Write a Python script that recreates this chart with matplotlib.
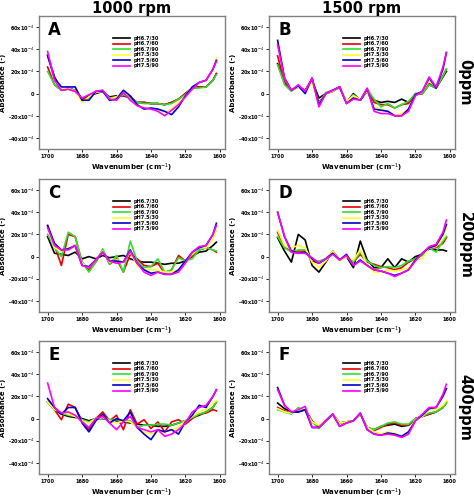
import matplotlib
matplotlib.use("Agg")
import matplotlib.pyplot as plt

wavenumber = [1700,1696,1692,1688,1684,1680,1676,1672,1668,1664,1660,1656,1652,1648,1644,1640,1636,1632,1628,1624,1620,1616,1612,1608,1604,1602]
series_names = ["pH6.7/30","pH6.7/60","pH6.7/90","pH7.5/30","pH7.5/60","pH7.5/90"]
colors = ["#000000","#e60000","#33dd33","#ffff33","#0000cc","#ff00ff"]

panel_A = [
 [35,15,3,5,3,-5,-2,0,2,-3,-2,-2,-4,-8,-8,-9,-9,-10,-8,-5,0,5,6,6,12,18],
 [24,8,3,4,2,-6,-3,1,2,-4,-3,-1,-3,-8,-8,-9,-9,-10,-8,-5,0,5,6,6,12,18],
 [20,8,3,4,3,-7,-4,2,3,-4,-3,-1,-4,-8,-9,-9,-9,-10,-9,-5,-1,5,5,6,12,17],
 [38,12,4,5,2,-8,-3,1,2,-5,-3,2,-6,-10,-13,-14,-14,-17,-14,-8,-2,6,10,12,22,32],
 [34,14,6,6,6,-6,-6,2,2,-6,-5,3,-2,-10,-14,-13,-14,-16,-19,-12,-2,6,10,12,22,30],
 [38,12,3,4,2,-4,-1,2,3,-5,-6,1,-6,-11,-13,-14,-16,-20,-15,-10,-3,4,10,12,22,29]]
panel_B = [
 [27,10,3,6,3,12,-4,0,2,6,-8,0,-6,2,-6,-8,-7,-8,-5,-8,-1,0,8,5,15,20],
 [34,10,3,6,3,13,-8,0,2,6,-8,-1,-6,3,-8,-10,-10,-13,-10,-9,0,0,9,5,16,22],
 [26,8,2,7,2,13,-9,1,3,6,-8,-1,-6,4,-5,-12,-9,-13,-10,-7,0,0,8,5,16,22],
 [45,14,3,6,2,10,-10,0,2,6,-7,-2,-5,2,-12,-14,-16,-20,-18,-14,-2,2,12,6,22,35],
 [48,14,3,7,0,14,-10,0,3,6,-9,-4,-6,4,-14,-15,-16,-20,-20,-14,-1,2,14,5,22,37],
 [44,14,3,8,2,14,-12,0,3,6,-9,-5,-6,5,-16,-18,-18,-20,-20,-16,-2,2,15,6,24,37]]
panel_C = [
 [18,3,2,1,4,-2,0,-2,1,-1,0,1,-2,-4,-5,-5,-6,-7,-6,-6,-4,0,4,5,10,13],
 [28,10,-8,20,18,-5,-12,-5,6,-7,-2,-14,2,-2,-8,-9,-6,-15,-12,1,-4,0,6,8,6,4],
 [20,8,0,22,18,-5,-14,-5,7,-7,1,-14,14,-4,-10,-9,-2,-14,-12,-1,-4,-2,6,8,6,5],
 [26,8,5,8,8,-6,-10,-3,5,-5,-3,-5,4,-8,-12,-12,-12,-14,-14,-12,-4,2,8,8,16,24],
 [28,12,6,7,10,-8,-9,-3,4,-4,-4,-5,6,-6,-12,-15,-14,-16,-16,-12,-4,4,8,10,20,30],
 [26,10,6,6,10,-8,-10,-3,4,-4,-6,-5,5,-6,-14,-17,-14,-16,-16,-14,-6,4,9,10,20,28]]
panel_D = [
 [17,5,-5,20,15,-8,-14,-5,5,-3,0,-10,14,-3,-10,-10,-2,-10,-2,-5,0,2,7,6,6,5],
 [22,8,5,5,5,-4,-6,-2,4,-3,0,-5,2,-5,-7,-9,-10,-12,-10,-5,-2,2,8,8,12,17],
 [18,8,4,6,6,-3,-4,-2,4,-3,0,-5,4,-4,-8,-10,-9,-10,-8,-4,-2,1,8,4,14,18],
 [24,10,8,10,8,-5,-10,-4,5,-4,0,-3,6,-8,-14,-14,-12,-13,-12,-10,-3,-2,8,9,16,26],
 [40,18,5,3,4,-2,-6,-2,3,-3,2,-8,-3,-8,-12,-13,-15,-17,-15,-12,-3,3,8,10,20,29],
 [40,18,4,3,3,-1,-6,-2,2,-3,1,-8,-4,-8,-12,-13,-15,-18,-15,-12,-4,3,9,11,22,33]]
panel_E = [
 [15,8,4,2,1,0,-2,0,0,-1,-2,-3,-4,-5,-6,-6,-7,-7,-6,-4,-2,1,3,6,10,15],
 [15,8,-1,13,10,-2,-10,0,6,-2,3,-10,8,-5,-1,-9,-3,-12,-3,-1,-5,0,4,5,8,7],
 [15,9,5,3,2,-1,-3,0,1,-1,-1,-2,-2,-8,-6,-6,-5,-5,-6,-4,-2,1,4,6,10,15],
 [15,8,6,4,2,-2,-4,0,1,-2,-4,-2,-3,-8,-12,-14,-12,-12,-10,-8,-2,2,6,8,14,16],
 [18,10,4,10,10,-4,-12,-2,4,-4,0,-2,6,-8,-14,-19,-10,-12,-10,-14,-3,3,12,10,20,26],
 [32,10,5,6,3,-3,-8,0,2,-4,-10,-3,2,-8,-10,-12,-10,-16,-14,-10,-4,6,10,12,20,26]]
panel_F = [
 [14,9,6,6,8,-2,-8,-2,4,-4,-3,-2,4,-8,-10,-7,-6,-5,-7,-6,0,2,4,6,10,15],
 [10,7,5,8,8,-3,-7,-2,4,-4,-3,-2,4,-8,-11,-8,-5,-4,-6,-6,0,2,4,6,10,14],
 [8,6,4,10,7,-3,-9,-2,4,-4,-3,-2,4,-8,-10,-7,-4,-3,-5,-5,0,2,5,6,10,14],
 [9,6,5,8,7,-3,-6,-2,4,-4,-3,-2,4,-8,-12,-14,-12,-13,-16,-12,-1,2,8,8,12,16],
 [28,12,6,6,8,-8,-8,-2,4,-7,-4,-2,5,-10,-14,-15,-13,-14,-16,-12,-2,3,9,10,20,27],
 [26,12,6,8,11,-8,-8,-2,4,-7,-4,-2,5,-10,-14,-15,-14,-15,-17,-14,-2,4,10,10,22,31]]

panels = [("A",panel_A),("B",panel_B),("C",panel_C),("D",panel_D),("E",panel_E),("F",panel_F)]
yticks = [-40,-20,0,20,40,60]
ytick_labels = [r"-40x10$^{-4}$", r"-20x10$^{-4}$", "0", r"20x10$^{-4}$", r"40x10$^{-4}$", r"60x10$^{-4}$"]
xticks = [1700,1680,1660,1640,1620,1600]
col_titles = ["1000 rpm","1500 rpm"]
row_labels = ["0ppm","200ppm","400ppm"]

W, H = 474, 499
fig = plt.figure(figsize=(W/100, H/100), dpi=100)
lefts = [39, 269]
width = 186
tops = [16, 179, 341]
height = 133
for i, (letter, data) in enumerate(panels):
    r, c = divmod(i, 2)
    ax = fig.add_axes([lefts[c]/W, 1-(tops[r]+height)/H, width/W, height/H])
    for vals, col, name in zip(data, colors, series_names):
        ax.plot(wavenumber, vals, color=col, lw=1.2, label=name)
    ax.set_xlim(1705, 1597)
    ax.set_ylim(-50, 70)
    ax.set_yticks(yticks)
    ax.set_yticklabels(ytick_labels)
    ax.set_xticks(xticks)
    ax.tick_params(labelsize=3.6, length=2, width=0.6, pad=1.5)
    for lab in ax.get_xticklabels() + ax.get_yticklabels():
        lab.set_fontweight("bold")
    for s in ax.spines.values():
        s.set_color("#808080"); s.set_linewidth(1)
    ax.set_xlabel("Wavenumber (cm$^{-1}$)", fontsize=5, fontweight="bold", labelpad=2)
    ax.set_ylabel("Absorbance (-)", fontsize=5, fontweight="bold")
    ax.yaxis.set_label_coords(-0.175, 0.5)
    ax.text(0.05, 0.96, letter, transform=ax.transAxes, fontsize=12, fontweight="bold", va="top")
    leg = ax.legend(loc="upper center", bbox_to_anchor=(0.52, 0.87), frameon=False,
                    fontsize=3.6, handlelength=3.5, labelspacing=0.1, borderpad=0, handletextpad=0.6)
    for t in leg.get_texts():
        t.set_fontweight("bold")
    if r == 0:
        ax.set_title(col_titles[c], fontsize=10.5, fontweight="bold", pad=1)
    if c == 1:
        ax.text(1.055, 0.5, row_labels[r], transform=ax.transAxes, rotation=-90,
                fontsize=10.5, fontweight="bold", va="center", ha="center")
fig.savefig("out.png", dpi=100)
